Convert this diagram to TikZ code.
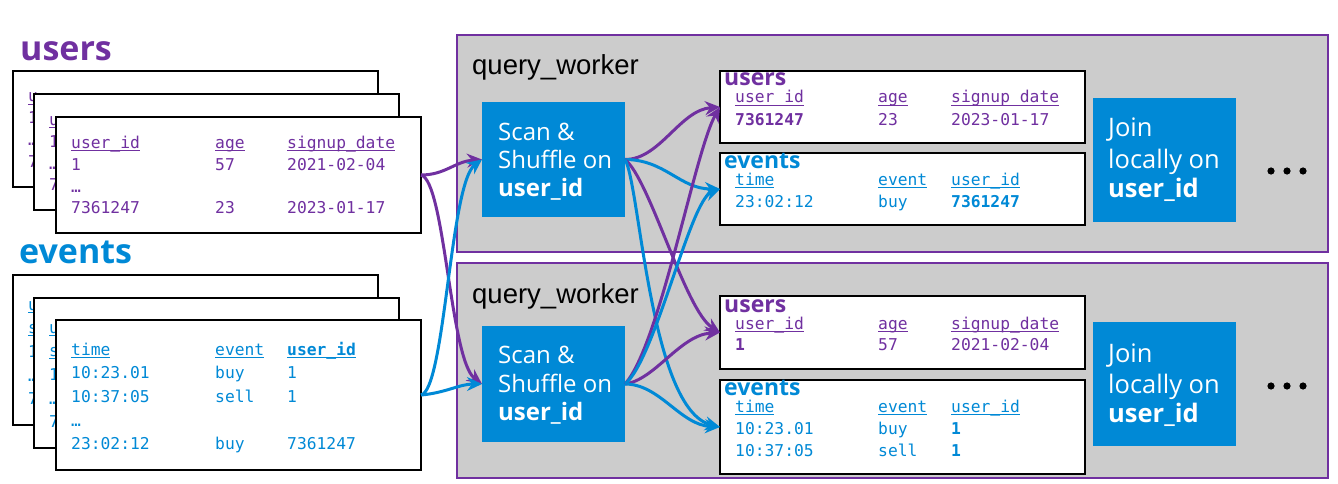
\documentclass[tikz,border=0pt]{standalone}
\usepackage{fontspec}
\setmainfont{Open Sans}
\newfontfamily\monof{DejaVu Sans Mono}
\newfontfamily\arialf{Liberation Sans}
\usetikzlibrary{arrows.meta}
\definecolor{pur}{RGB}{112,48,160}
\definecolor{blu}{RGB}{0,137,214}
\definecolor{gry}{RGB}{204,204,204}
\newsavebox\ulbox
\newcommand\myul[1]{\sbox\ulbox{#1}\rlap{\rule[-2.6pt]{\wd\ulbox}{0.9pt}}\usebox\ulbox}

% visible parts of the hidden (back) users tables
\newcommand\UsersBackRows[1]{%
  \node[mt,text=pur] (#1a) at (15,31) {\myul{u}};
  \node[mt,text=pur] (#1b) at (15,53) {1};
  \node[mt,text=pur] (#1c) at (15,75) {…};
  \node[mt,text=pur] (#1d) at (15,96) {7};
}
% visible parts of the hidden (back) events tables
\newcommand\EventsBackRows[1]{%
  \node[mt,text=blu] (#1a) at (15,35) {\myul{u}};
  \node[mt,text=blu] (#1b) at (15,58.5) {\myul{s}};
  \node[mt,text=blu] (#1c) at (15,82) {1};
  \node[mt,text=blu] (#1d) at (15,106) {…};
  \node[mt,text=blu] (#1e) at (15,129.5) {7};
}

\begin{document}
\begin{tikzpicture}[x=1pt,y=-1pt,
  tbox/.style={draw=black, line width=1.4pt, fill=white, inner sep=0pt, outer sep=0pt, anchor=north west},
  mt/.style={font=\monof\fontsize{16.3}{18}\selectfont, inner sep=0pt, anchor=base west},
  worker/.style={draw=pur, line width=1.2pt, fill=gry, inner sep=0pt, outer sep=0pt, anchor=north west},
  blubox/.style={fill=blu, inner sep=0pt, outer sep=0pt, anchor=north west},
  wt/.style={font=\fontsize{24}{28}\selectfont, text=white, inner sep=0pt, anchor=base west},
  jt/.style={font=\fontsize{25.5}{30}\selectfont, text=white, inner sep=0pt, anchor=base west},
  bigtitle/.style={font=\bfseries\fontsize{34}{38}\selectfont, inner sep=0pt, anchor=base west},
  smalltitle/.style={font=\bfseries\fontsize{23}{26}\selectfont, inner sep=0pt, anchor=base west},
  qw/.style={font=\arialf\fontsize{27.5}{32}\selectfont, text=black, inner sep=0pt, anchor=base west},
  conn/.style={line width=3pt, -{Stealth[length=15pt,width=14pt,inset=5pt]}}
]
\useasboundingbox (0,0) rectangle (1338,484);

% ---------- titles ----------
\node[bigtitle,text=pur] (tusers) at (20,61) {users};
\node[bigtitle,text=blu] (tevents) at (19,263) {events};

% ---------- left users stack ----------
\node[tbox,minimum width=365pt,minimum height=116pt] (u1) at (13,71) {};
\begin{scope}[shift={(13,71)}]\UsersBackRows{uA}\end{scope}
\node[tbox,minimum width=365pt,minimum height=116pt] (u2) at (34,94) {};
\begin{scope}[shift={(34,94)}]\UsersBackRows{uB}\end{scope}
\node[tbox,minimum width=365pt,minimum height=116pt] (u3) at (56,117) {};
\begin{scope}[shift={(56,117)}]
  \node[mt,text=pur] (uCa) at (15,31) {\myul{user\_id}};
  \node[mt,text=pur] (uCb) at (159,31) {\myul{age}};
  \node[mt,text=pur] (uCc) at (231,31) {\myul{signup\_date}};
  \node[mt,text=pur] (uCd) at (15,53) {1};
  \node[mt,text=pur] (uCe) at (159,53) {57};
  \node[mt,text=pur] (uCf) at (231,53) {2021-02-04};
  \node[mt,text=pur] (uCg) at (15,75) {…};
  \node[mt,text=pur] (uCh) at (15,96) {7361247};
  \node[mt,text=pur] (uCi) at (159,96) {23};
  \node[mt,text=pur] (uCj) at (231,96) {2023-01-17};
\end{scope}

% ---------- left events stack ----------
\node[tbox,minimum width=365pt,minimum height=150pt] (e1) at (13,275) {};
\begin{scope}[shift={(13,275)}]\EventsBackRows{eA}\end{scope}
\node[tbox,minimum width=365pt,minimum height=150pt] (e2) at (34,298) {};
\begin{scope}[shift={(34,298)}]\EventsBackRows{eB}\end{scope}
\node[tbox,minimum width=365pt,minimum height=150pt] (e3) at (56,320) {};
\begin{scope}[shift={(56,320)}]
  \node[mt,text=blu] (eCa) at (15,35) {\myul{time}};
  \node[mt,text=blu] (eCb) at (159,35) {\myul{event}};
  \node[mt,text=blu] (eCc) at (231,35) {\myul{\bfseries user\_id}};
  \node[mt,text=blu] (eCd) at (15,58.5) {10:23.01};
  \node[mt,text=blu] (eCe) at (159,58.5) {buy};
  \node[mt,text=blu] (eCf) at (231,58.5) {1};
  \node[mt,text=blu] (eCg) at (15,82) {10:37:05};
  \node[mt,text=blu] (eCh) at (159,82) {sell};
  \node[mt,text=blu] (eCi) at (231,82) {1};
  \node[mt,text=blu] (eCj) at (15,106) {…};
  \node[mt,text=blu] (eCk) at (15,129.5) {23:02:12};
  \node[mt,text=blu] (eCl) at (159,129.5) {buy};
  \node[mt,text=blu] (eCm) at (231,129.5) {7361247};
\end{scope}

% ---------- workers ----------
\node[worker,minimum width=871pt,minimum height=217pt] (wT) at (457,35) {};
\node[worker,minimum width=871pt,minimum height=215pt] (wB) at (457,263) {};
\node[qw] (qwT) at (472,75) {query\_worker};
\node[qw] (qwB) at (472,303) {query\_worker};

% scan boxes
\node[blubox,minimum width=143pt,minimum height=115pt] (scT) at (482,102) {};
\node[wt] (scT1) at (498,140) {Scan \&};
\node[wt] (scT2) at (498,168) {Shuffle on};
\node[wt] (scT3) at (498,196) {\bfseries user\_id};
\node[blubox,minimum width=143pt,minimum height=116pt] (scB) at (482,326) {};
\node[wt] (scB1) at (498,363) {Scan \&};
\node[wt] (scB2) at (498,392) {Shuffle on};
\node[wt] (scB3) at (498,420) {\bfseries user\_id};

% join boxes
\node[blubox,minimum width=143pt,minimum height=124pt] (jT) at (1093,98) {};
\node[jt] (jT1) at (1108,137) {Join};
\node[jt] (jT2) at (1108,168) {locally on};
\node[jt] (jT3) at (1108,197) {\bfseries user\_id};
\node[blubox,minimum width=143pt,minimum height=124pt] (jB) at (1093,322) {};
\node[jt] (jB1) at (1108,362) {Join};
\node[jt] (jB2) at (1108,393) {locally on};
\node[jt] (jB3) at (1108,422) {\bfseries user\_id};

% dots
\foreach \xx in {1271,1287,1303}{
  \fill[black] (\xx,171) circle (3.6pt);
  \fill[black] (\xx,386) circle (3.6pt);
}

% ---------- worker tables: top ----------
\node[tbox,minimum width=365pt,minimum height=72pt] (wu) at (720,71) {};
\begin{scope}[shift={(720,71)}]
  \node[smalltitle,text=pur] (wuT) at (4,15) {users};
  \node[mt,text=pur] (wua) at (15,32) {\myul{user\_id}};
  \node[mt,text=pur] (wub) at (158,32) {\myul{age}};
  \node[mt,text=pur] (wuc) at (231,32) {\myul{signup\_date}};
  \node[mt,text=pur] (wud) at (15,54) {\bfseries 7361247};
  \node[mt,text=pur] (wue) at (158,54) {23};
  \node[mt,text=pur] (wuf) at (231,54) {2023-01-17};
\end{scope}
\node[tbox,minimum width=365pt,minimum height=72pt] (we) at (720,153) {};
\begin{scope}[shift={(720,153)}]
  \node[smalltitle,text=blu] (weT) at (4,15) {events};
  \node[mt,text=blu] (wea) at (15,32) {\myul{time}};
  \node[mt,text=blu] (web) at (158,32) {\myul{event}};
  \node[mt,text=blu] (wec) at (231,32) {\myul{user\_id}};
  \node[mt,text=blu] (wed) at (15,54) {23:02:12};
  \node[mt,text=blu] (wee) at (158,54) {buy};
  \node[mt,text=blu] (wef) at (231,54) {\bfseries 7361247};
\end{scope}

% ---------- worker tables: bottom ----------
\node[tbox,minimum width=365pt,minimum height=73pt] (bu) at (720,296) {};
\begin{scope}[shift={(720,296)}]
  \node[smalltitle,text=pur] (buT) at (4,16) {users};
  \node[mt,text=pur] (bua) at (15,33) {\myul{user\_id}};
  \node[mt,text=pur] (bub) at (158,33) {\myul{age}};
  \node[mt,text=pur] (buc) at (231,33) {\myul{signup\_date}};
  \node[mt,text=pur] (bud) at (15,54) {\bfseries 1};
  \node[mt,text=pur] (bue) at (158,54) {57};
  \node[mt,text=pur] (buf) at (231,54) {2021-02-04};
\end{scope}
\node[tbox,minimum width=365pt,minimum height=94pt] (be) at (720,380) {};
\begin{scope}[shift={(720,380)}]
  \node[smalltitle,text=blu] (beT) at (4,15) {events};
  \node[mt,text=blu] (bea) at (15,32) {\myul{time}};
  \node[mt,text=blu] (beb) at (158,32) {\myul{event}};
  \node[mt,text=blu] (bec) at (231,32) {\myul{user\_id}};
  \node[mt,text=blu] (bed) at (15,54) {10:23.01};
  \node[mt,text=blu] (bee) at (158,54) {buy};
  \node[mt,text=blu] (bef) at (231,54) {\bfseries 1};
  \node[mt,text=blu] (beg) at (15,76) {10:37:05};
  \node[mt,text=blu] (beh) at (158,76) {sell};
  \node[mt,text=blu] (bei) at (231,76) {\bfseries 1};
\end{scope}

% ---------- connectors: left to scan ----------
\draw[conn,pur] (u3.east) .. controls +(24,0) and +(-27,2) .. (scT.west);
\draw[conn,pur] (u3.east) .. controls +(24,6) and +(-32,-24) .. (scB.west);
\draw[conn,blu] (e3.east) .. controls +(24,-5) and +(-32,24) .. (scT.west);
\draw[conn,blu] (e3.east) .. controls +(24,-2) and +(-22,0) .. (scB.west);

% ---------- connectors: scan to worker tables ----------
\draw[conn,pur] (scT.east) .. controls +(35,0) and +(-40,3) .. (wu.west);
\draw[conn,blu] (scT.east) .. controls +(40,0) and +(-40,0) .. (we.west);
\draw[conn,pur] (scT.east) .. controls +(25,20) and +(-35,-22) .. (bu.west);
\draw[conn,blu] (scT.east) .. controls +(15,25) and +(-70,-17) .. (be.west);
\draw[conn,pur] (scB.east) .. controls +(30,-4) and +(-40,2.5) .. (bu.west);
\draw[conn,blu] (scB.east) .. controls +(35,0) and +(-40,-2) .. (be.west);
\draw[conn,pur] (scB.east) .. controls +(35,-39) and +(-25,43) .. (wu.west);
\draw[conn,blu] (scB.east) .. controls +(30,-24) and +(-30,11) .. (we.west);
\end{tikzpicture}
\end{document}
